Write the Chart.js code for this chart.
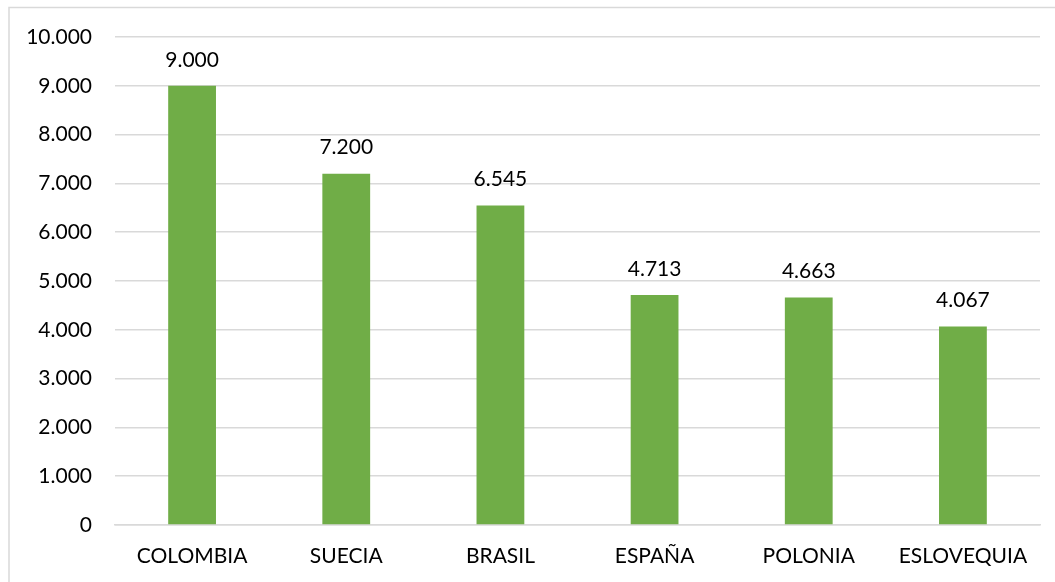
<!DOCTYPE html>
<html>
<head>
<meta charset="utf-8">
<script src="https://cdn.jsdelivr.net/npm/chart.js@4/dist/chart.umd.min.js"></script>
<style>
	html, body { margin: 0; padding: 0; background: #fff; }
	#wrap { position: absolute; left: 0; top: 0; width: 1055px; height: 582px; }
</style>
</head>
<body>
<div id="wrap"><canvas id="chart"></canvas></div>
<script>
var paises = ["COLOMBIA", "SUECIA", "BRASIL", "ESPAÑA", "POLONIA", "ESLOVEQUIA"];
var valores = [9000, 7200, 6545, 4713, 4663, 4067];
var yTicks = [0, 1000, 2000, 3000, 4000, 5000, 6000, 7000, 8000, 9000, 10000];

var fuente = "Lato, 'Open Sans', sans-serif";

// 9000 -> "9.000"
function miles(v) {
	return String(Math.round(v)).replace(/\B(?=(\d{3})+(?!\d))/g, ".");
}

// marco gris del grafico
var marco = {
	id: "marco",
	beforeDraw: function (chart) {
		var ctx = chart.ctx;
		ctx.save();
		ctx.strokeStyle = "#d9d9d9";
		ctx.lineWidth = 1.5;
		ctx.strokeRect(9, 7.5, 1100, 700);
		ctx.restore();
	}
};

// etiquetas de valor sobre las barras
var etiquetas = {
	id: "etiquetas",
	afterDatasetsDraw: function (chart) {
		var ctx = chart.ctx;
		var meta = chart.getDatasetMeta(0);
		ctx.save();
		ctx.font = "21px " + fuente;
		ctx.fillStyle = "#000";
		ctx.textAlign = "center";
		ctx.textBaseline = "middle";
		meta.data.forEach(function (bar, i) {
			ctx.fillText(miles(valores[i]), bar.x, bar.y - 26);
		});
		ctx.restore();
	}
};

new Chart(document.getElementById("chart").getContext("2d"), {
	type: "bar",
	data: {
		labels: paises,
		datasets: [
			{
				data: valores,
				backgroundColor: "#70ad47",
				borderWidth: 0,
				categoryPercentage: 1,
				barPercentage: 0.31,
			},
		],
	},
	options: {
		responsive: true,
		maintainAspectRatio: false,
		animation: false,
		layout: { padding: { left: 0, right: 15, top: 37, bottom: 0 } },
		plugins: { legend: { display: false }, tooltip: { enabled: false } },
		scales: {
			x: {
				grid: { display: false, drawTicks: false },
				border: { display: true, color: "#d9d9d9", width: 1.5 },
				ticks: { color: "#000", font: { family: fuente, size: 21 }, padding: 19, maxRotation: 0 },
				afterFit: function (scale) { scale.height = 57; },
			},
			y: {
				min: 0,
				max: 10000,
				afterBuildTicks: function (scale) {
					scale.ticks = yTicks.map(function (v) { return { value: v }; });
				},
				grid: { color: "#d9d9d9", lineWidth: 1.5, drawTicks: false },
				border: { display: false },
				ticks: {
					color: "#000",
					font: { family: fuente, size: 21 },
					padding: 23,
					callback: function (v) { return miles(v); },
				},
				afterFit: function (scale) { scale.width = 115; },
			},
		},
	},
	plugins: [marco, etiquetas],
});
</script>
</body>
</html>
